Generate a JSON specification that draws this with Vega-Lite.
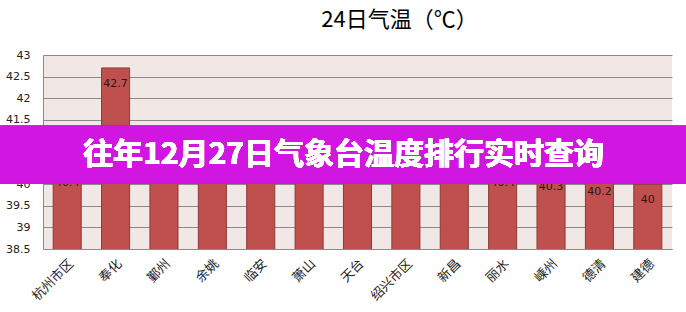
{
  "$schema": "https://vega.github.io/schema/vega-lite/v6.json",
  "width": 629,
  "height": 194,
  "autosize": "none",
  "padding": {"left": 43, "top": 55, "right": 14, "bottom": 63},
  "background": "white",
  "title": {
    "text": "24日气温（℃）",
    "font": "Noto Sans CJK SC",
    "fontSize": 22,
    "fontWeight": "normal",
    "color": "#000000",
    "dx": 42,
    "offset": 17
  },
  "config": {
    "view": {"stroke": null, "fill": "#F1E8E6"},
    "axis": {"domainColor": "#8a8a8a", "gridColor": "#8a8a8a", "ticks": false}
  },
  "data": {
    "values": [
      {"city": "杭州市区", "temp": 40.4},
      {"city": "奉化", "temp": 42.7},
      {"city": "鄞州", "temp": 41.2},
      {"city": "余姚", "temp": 41.1},
      {"city": "临安", "temp": 40.9},
      {"city": "萧山", "temp": 40.8},
      {"city": "天台", "temp": 40.8},
      {"city": "绍兴市区", "temp": 40.7},
      {"city": "新昌", "temp": 40.5},
      {"city": "丽水", "temp": 40.4},
      {"city": "嵊州", "temp": 40.3},
      {"city": "德清", "temp": 40.2},
      {"city": "建德", "temp": 40.0}
    ]
  },
  "layer": [
    {
      "mark": {"type": "bar", "color": "#C0504D", "stroke": "#8B3A38", "strokeWidth": 1, "clip": true},
      "encoding": {
        "x": {
          "field": "city", "type": "nominal", "sort": null,
          "scale": {"paddingInner": 0.42, "paddingOuter": 0.21},
          "axis": {
            "title": null, "labelAngle": -45, "labelFont": "Noto Sans CJK SC",
            "labelFontSize": 13, "labelColor": "#222222", "labelPadding": 8,
            "domain": true, "grid": false
          }
        },
        "y": {
          "field": "temp", "type": "quantitative",
          "scale": {"domain": [38.5, 43], "nice": false, "zero": false},
          "axis": {
            "title": null, "values": [38.5, 39, 39.5, 40, 40.5, 41, 41.5, 42, 42.5, 43],
            "tickCount": 20, "format": ".1~f", "labelOverlap": false,
            "labelFont": "DejaVu Sans", "labelFontSize": 11, "labelColor": "#222222",
            "labelPadding": 13, "grid": true, "domain": true
          }
        }
      }
    },
    {
      "mark": {"type": "text", "font": "DejaVu Sans", "fontSize": 11, "color": "#2a1616", "baseline": "middle", "dy": 16},
      "encoding": {
        "x": {"field": "city", "type": "nominal", "sort": null},
        "y": {"field": "temp", "type": "quantitative"},
        "text": {"field": "temp", "type": "quantitative", "format": ".1~f"}
      }
    },
    {
      "mark": {"type": "rect", "color": "#D016E0", "opacity": 0.68, "xOffset": -43, "x2Offset": 14},
      "encoding": {
        "x": {"value": 0},
        "x2": {"value": "width"},
        "y": {"datum": 41.36},
        "y2": {"datum": 40.02}
      }
    },
    {
      "mark": {"type": "text", "font": "Noto Sans CJK SC", "fontSize": 30, "fontWeight": "bold", "color": "#ffffff", "baseline": "middle", "align": "center", "dx": -14},
      "encoding": {
        "y": {"datum": 40.69},
        "text": {"value": "往年12月27日气象台温度排行实时查询"}
      }
    }
  ]
}
